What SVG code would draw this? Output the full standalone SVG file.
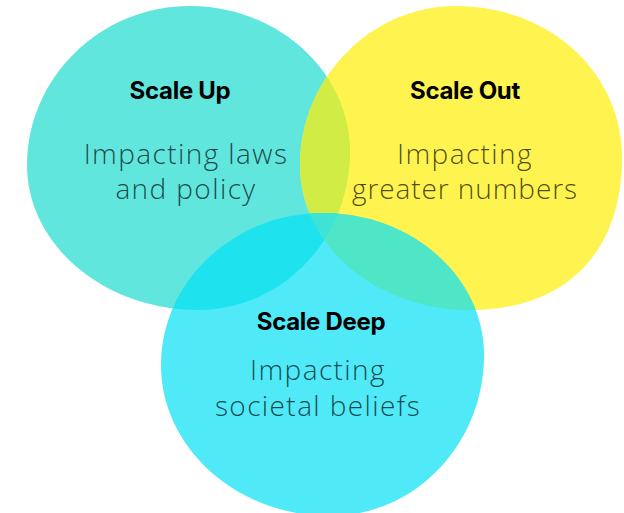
<svg xmlns="http://www.w3.org/2000/svg" width="624" height="513" viewBox="0 0 624 513">
<style>
.t{font-family:Inter,"Liberation Sans",sans-serif;font-weight:700;font-size:24px;fill:#000;text-anchor:middle;letter-spacing:-0.3px}
.s{font-family:"Open Sans","Liberation Sans",sans-serif;font-weight:300;font-size:28px;fill:#000;fill-opacity:0.7;text-anchor:middle;letter-spacing:1.4px}
</style>
<defs>
<path id="pL" d="M190,6 C278,6 350,72 350,152 C350,239 282,310 198,310 C104,310 27,245 27,165 C27,78 100,6 190,6 Z"/>
<path id="pY" d="M456,6 C549,6 622,72 622,158 C622,252 566,310 470,310 C375,310 300,245 300,165 C300,78 371,6 456,6 Z"/>
<path id="pB" d="M323,213 C412,213 484,277 484,355 C484,444 415,516 330,516 C237,516 161,448 161,365 C161,281 234,213 323,213 Z"/>
<clipPath id="cL"><use href="#pL"/></clipPath>
<clipPath id="cY"><use href="#pY"/></clipPath>
<clipPath id="cB"><use href="#pB"/></clipPath>
</defs>
<g id="scale-up"><use href="#pL" fill="#61E6DE"/></g>
<g id="scale-out"><use href="#pY" fill="#FFF44F"/></g>
<g id="scale-deep"><use href="#pB" fill="#4FE9F8"/></g>
<g id="overlaps">
<g clip-path="url(#cL)"><use href="#pY" fill="#D0EC45"/></g>
<g clip-path="url(#cL)"><use href="#pB" fill="#1FE2EF"/></g>
<g clip-path="url(#cY)"><use href="#pB" fill="#4EE6C6"/></g>
<g clip-path="url(#cL)"><g clip-path="url(#cY)"><use href="#pB" fill="#3EE3D6"/></g></g>
</g>
<g id="labels">
<text class="t" x="180" y="99">Scale Up</text>
<text class="s" x="186" y="164">Impacting laws</text>
<text class="s" x="186" y="199">and policy</text>
<text class="t" x="465" y="99">Scale Out</text>
<text class="s" x="465" y="164">Impacting</text>
<text class="s" x="465" y="199" style="letter-spacing:0.9px">greater numbers</text>
<text class="t" x="321" y="330">Scale Deep</text>
<text class="s" x="318" y="380">Impacting</text>
<text class="s" x="318" y="416">societal beliefs</text>
</g>
</svg>
